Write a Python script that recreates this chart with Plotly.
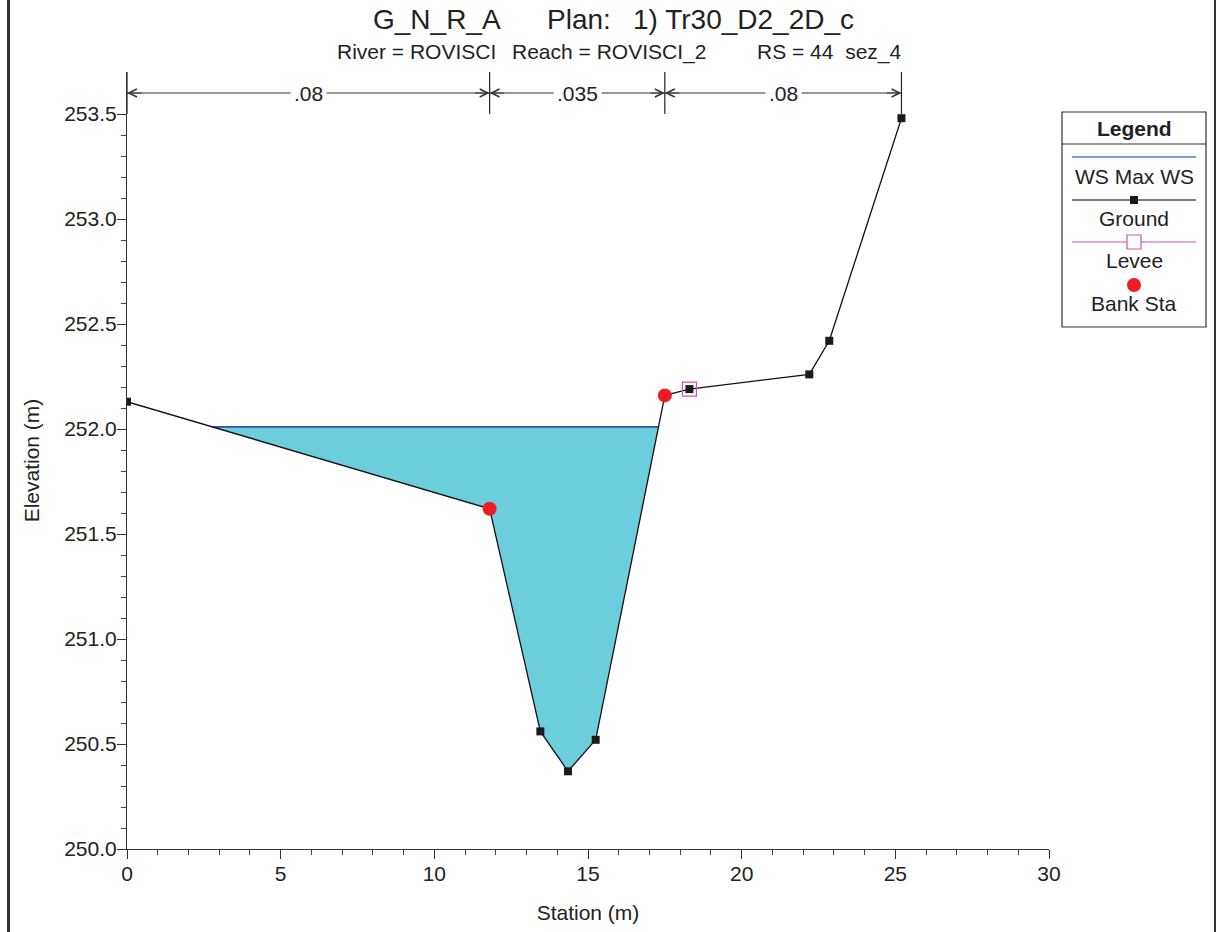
import numpy as np
import plotly.graph_objects as go

# ---------------- data ----------------
station = [0.0, 11.8, 13.45, 14.35, 15.25, 17.5, 18.3, 22.2, 22.85, 25.2]
elevation = [252.13, 251.62, 250.56, 250.37, 250.52, 252.16, 252.19, 252.26, 252.42, 253.48]
bank_sta = [11.8, 17.5]
bank_elev = [251.62, 252.16]
levee_sta = [18.3]
levee_elev = [252.19]
ws_elev = 252.01
n_breaks = [0.0, 11.8, 17.5, 25.2]
n_values = [".08", ".035", ".08"]
legend_labels = ["WS Max WS", "Ground", "Levee", "Bank Sta"]
title_parts = ["G_N_R_A", "Plan:", "1) Tr30_D2_2D_c"]
subtitle_parts = ["River = ROVISCI", "Reach = ROVISCI_2", "RS = 44  sez_4"]

# ---------------- style ----------------
FONT = "Liberation Sans, Arial, Helvetica, sans-serif"
TXT = "#222222"
W, H = 1216, 932
ML, MR, MT, MB = 127, 167, 72, 83
PW, PH = W - ML - MR, H - MT - MB
WS_COLOR = "#3550a8"
FILL_COLOR = "#6ccddc"
LEVEE_COLOR = "#c855c0"
BANK_COLOR = "#ee1c24"
FS = 21


def px(xw):
    return (xw - ML) / PW


def py(yw):
    return (H - MB - yw) / PH


# ---------------- water polygon (from ground & WS) ----------------
wx, wy = [], []
for i in range(len(station) - 1):
    x0, y0, x1, y1 = station[i], elevation[i], station[i + 1], elevation[i + 1]
    if y0 <= ws_elev:
        wx.append(x0); wy.append(y0)
    if (y0 - ws_elev) * (y1 - ws_elev) < 0:
        t = (ws_elev - y0) / (y1 - y0)
        wx.append(x0 + t * (x1 - x0)); wy.append(ws_elev)
ws_left, ws_right = wx[0], wx[-1]

fig = go.Figure()
fig.add_trace(go.Scatter(x=wx + [wx[0]], y=wy + [wy[0]], fill="toself", fillcolor=FILL_COLOR,
                         line=dict(width=0), mode="lines", showlegend=False, hoverinfo="skip"))
fig.add_trace(go.Scatter(x=[ws_left, ws_right], y=[ws_elev, ws_elev], mode="lines",
                         line=dict(color=WS_COLOR, width=1.6), name=legend_labels[0], showlegend=False))
fig.add_trace(go.Scatter(x=station, y=elevation, mode="lines+markers",
                         line=dict(color="#111111", width=1.3),
                         marker=dict(symbol="square", size=8, color="#1a1a1a"),
                         name=legend_labels[1], showlegend=False))
fig.add_trace(go.Scatter(x=levee_sta, y=levee_elev, mode="markers",
                         marker=dict(symbol="square-open", size=14, color=LEVEE_COLOR, line=dict(width=1.2)),
                         name=legend_labels[2], showlegend=False))
fig.add_trace(go.Scatter(x=bank_sta, y=bank_elev, mode="markers",
                         marker=dict(symbol="circle", size=14, color=BANK_COLOR),
                         name=legend_labels[3], showlegend=False))

shapes = []
annotations = []

# ---------------- Manning's n bars ----------------
n_y = 253.6
for b in n_breaks:
    shapes.append(dict(type="line", xref="x", yref="y", x0=b, x1=b, y0=253.5, y1=253.7,
                       line=dict(color="#222", width=1.2)))
for i, lab in enumerate(n_values):
    a, b = n_breaks[i], n_breaks[i + 1]
    shapes.append(dict(type="line", xref="x", yref="y", x0=a, x1=b, y0=n_y, y1=n_y,
                       line=dict(color="#333", width=1)))
    for end, off in ((a, 16), (b, -16)):
        annotations.append(dict(x=end, y=n_y, xref="x", yref="y", ax=off, ay=0, text="",
                                showarrow=True, arrowhead=5, arrowsize=1.6, arrowwidth=1,
                                arrowcolor="#333"))
    annotations.append(dict(x=(a + b) / 2, y=n_y, xref="x", yref="y", text=lab, showarrow=False,
                            xanchor="center", yanchor="middle",
                            bgcolor="white", borderpad=3, font=dict(size=FS, color=TXT, family=FONT)))

# ---------------- titles ----------------
for txt, xl in zip(title_parts, [371, 545, 631]):
    annotations.append(dict(x=px(xl), y=py(20), xref="paper", yref="paper", xanchor="left",
                            yanchor="middle", text=txt, showarrow=False,
                            font=dict(size=28, color=TXT, family=FONT)))
for txt, xl in zip(subtitle_parts, [335, 510, 755]):
    annotations.append(dict(x=px(xl), y=py(52), xref="paper", yref="paper", xanchor="left",
                            yanchor="middle", text=txt, showarrow=False,
                            font=dict(size=21, color=TXT, family=FONT)))

# ---------------- legend (drawn) ----------------
LX0, LX1, LY0, LY1 = 1062, 1206, 112, 327
CX = (LX0 + LX1) / 2
SX0, SX1 = 1072, 1196
shapes.append(dict(type="rect", xref="paper", yref="paper", x0=px(LX0), x1=px(LX1), y0=py(LY1), y1=py(LY0),
                   line=dict(color="#333", width=1.2), fillcolor="white", layer="above"))
shapes.append(dict(type="line", xref="paper", yref="paper", x0=px(LX0), x1=px(LX1), y0=py(144), y1=py(144),
                   line=dict(color="#333", width=1.2)))
annotations.append(dict(x=px(CX), y=py(128), xref="paper", yref="paper", text="<b>Legend</b>",
                        xanchor="center", yanchor="middle",
                        showarrow=False, font=dict(size=FS, color=TXT, family=FONT)))
# WS line
shapes.append(dict(type="line", xref="paper", yref="paper", x0=px(SX0), x1=px(SX1), y0=py(157), y1=py(157),
                   line=dict(color="#5a78c8", width=1.5)))
# Ground
shapes.append(dict(type="line", xref="paper", yref="paper", x0=px(SX0), x1=px(SX1), y0=py(200), y1=py(200),
                   line=dict(color="#555", width=1.5)))
shapes.append(dict(type="rect", xref="paper", yref="paper", x0=px(CX - 4), x1=px(CX + 4), y0=py(204), y1=py(196),
                   line=dict(width=0), fillcolor="#1a1a1a"))
# Levee
shapes.append(dict(type="line", xref="paper", yref="paper", x0=px(SX0), x1=px(SX1), y0=py(242), y1=py(242),
                   line=dict(color=LEVEE_COLOR, width=1.2)))
shapes.append(dict(type="rect", xref="paper", yref="paper", x0=px(CX - 7), x1=px(CX + 7), y0=py(249), y1=py(235),
                   line=dict(color=LEVEE_COLOR, width=1.2), fillcolor="white"))
# Bank
shapes.append(dict(type="circle", xref="paper", yref="paper", x0=px(CX - 7), x1=px(CX + 7), y0=py(292), y1=py(278),
                   line=dict(width=0), fillcolor=BANK_COLOR))
for lab, yy in zip(legend_labels, [176, 218, 260, 303]):
    annotations.append(dict(x=px(CX), y=py(yy), xref="paper", yref="paper", text=lab, showarrow=False,
                            xanchor="center", yanchor="middle",
                            font=dict(size=FS, color=TXT, family=FONT)))

# ---------------- frame ----------------
shapes.append(dict(type="line", xref="paper", yref="paper", x0=px(8.5), x1=px(8.5), y0=py(H), y1=py(0),
                   line=dict(color="#333", width=3)))
shapes.append(dict(type="line", xref="paper", yref="paper", x0=px(1215), x1=px(1215), y0=py(H), y1=py(0),
                   line=dict(color="#333", width=2)))

fig.update_layout(
    width=W, height=H,
    margin=dict(l=ML, r=MR, t=MT, b=MB, autoexpand=False),
    paper_bgcolor="white", plot_bgcolor="white",
    font=dict(family=FONT, size=FS, color=TXT),
    showlegend=False,
    shapes=shapes, annotations=annotations,
    xaxis=dict(range=[0, 30], tickmode="linear", tick0=0, dtick=5, showgrid=False, zeroline=False,
               showline=True, linecolor="#333", linewidth=1.2, ticks="outside", ticklen=9, tickwidth=1.2,
               tickcolor="#333", tickfont=dict(size=FS, family=FONT, color=TXT), ticklabelstandoff=-3,
               minor=dict(tickmode="linear", tick0=0, dtick=1, ticks="outside", ticklen=5, tickwidth=1,
                          tickcolor="#444", showgrid=False),
               title=dict(text="Station (m)", font=dict(size=FS, family=FONT, color=TXT), standoff=21),
               automargin=False),
    yaxis=dict(range=[250, 253.7], tickmode="array", tickvals=list(np.arange(250, 253.51, 0.5)),
               ticktext=[f"{v:.1f}" for v in np.arange(250, 253.51, 0.5)],
               showgrid=False, zeroline=False,
               showline=True, linecolor="#333", linewidth=1.2, ticks="outside", ticklen=9, tickwidth=1.2,
               tickcolor="#333", tickfont=dict(size=FS, family=FONT, color=TXT), ticklabelstandoff=-4,
               minor=dict(tickmode="array", tickvals=list(np.round(np.arange(250, 253.51, 0.1), 2)),
                          ticks="outside", ticklen=5, tickwidth=1, tickcolor="#444", showgrid=False),
               title=dict(text="Elevation (m)", font=dict(size=FS, family=FONT, color=TXT), standoff=18),
               automargin=False),
)

fig.write_html("out.html", config={"displayModeBar": False},
               post_script="document.body.style.margin='0';document.body.style.overflow='hidden';")
